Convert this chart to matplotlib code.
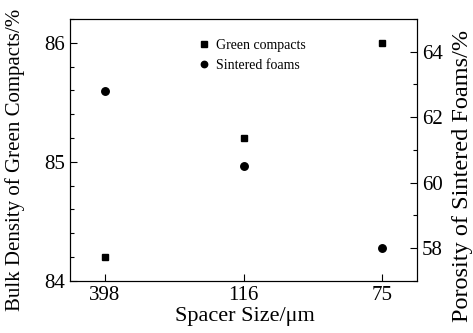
import matplotlib
matplotlib.use("Agg")
import matplotlib.pyplot as plt
from matplotlib.ticker import MultipleLocator

plt.rcParams['font.family'] = ['Liberation Serif', 'DejaVu Serif']
plt.rcParams['mathtext.fontset'] = 'stix'

categories = ['398', '116', '75']
green_density = [84.2, 85.2, 86.0]
sintered_porosity = [62.8, 60.5, 58.0]

fig = plt.figure(figsize=(4.73, 3.33), dpi=100)
ax = fig.add_axes([0.148, 0.157, 0.7336, 0.786])
ax2 = ax.twinx()

x = list(range(len(categories)))
h1, = ax.plot(x, green_density, 's', color='black', ms=5, linestyle='none', label='Green compacts')
h2, = ax2.plot(x, sintered_porosity, 'o', color='black', ms=5.4, linestyle='none', label='Sintered foams')

ax.set_xlim(-0.25, 2.25)
ax.set_ylim(84, 86.2)
ax2.set_ylim(57, 65)
ax.set_xticks(x)
ax.set_xticklabels(categories)
ax.set_yticks([84, 85, 86])
ax.yaxis.set_minor_locator(MultipleLocator(0.2))
ax2.set_yticks([58, 60, 62, 64])
ax2.yaxis.set_minor_locator(MultipleLocator(1))

ax.tick_params(axis='both', which='major', direction='in', length=5, labelsize=15, width=0.8)
ax.tick_params(axis='y', which='minor', direction='in', length=3, width=0.8)
ax.tick_params(axis='x', which='both', top=False, pad=4)
ax2.tick_params(axis='y', which='major', direction='in', length=5, labelsize=15, width=0.8)
ax2.tick_params(axis='y', which='minor', direction='in', length=3, width=0.8)

ax.set_xlabel('Spacer Size/μm', fontsize=16, va='center', ha='center')
ax.xaxis.set_label_coords(0.503, -0.137)
ax.set_ylabel('Bulk Density of Green Compacts/%', fontsize=15, va='center', ha='center')
ax.yaxis.set_label_coords(-0.158, 0.46)
ax2.set_ylabel('Porosity of Sintered Foams/%', fontsize=17.5, va='center', ha='center', rotation=90)
ax2.yaxis.set_label_coords(1.13, 0.40)

leg = ax.legend(handles=[h1, h2], loc='upper left', bbox_to_anchor=(0.33, 0.97),
                frameon=False, fontsize=10, handletextpad=0.35, handlelength=1.0,
                labelspacing=0.5, markerscale=0.85)

fig.savefig('out.png', dpi=100)
